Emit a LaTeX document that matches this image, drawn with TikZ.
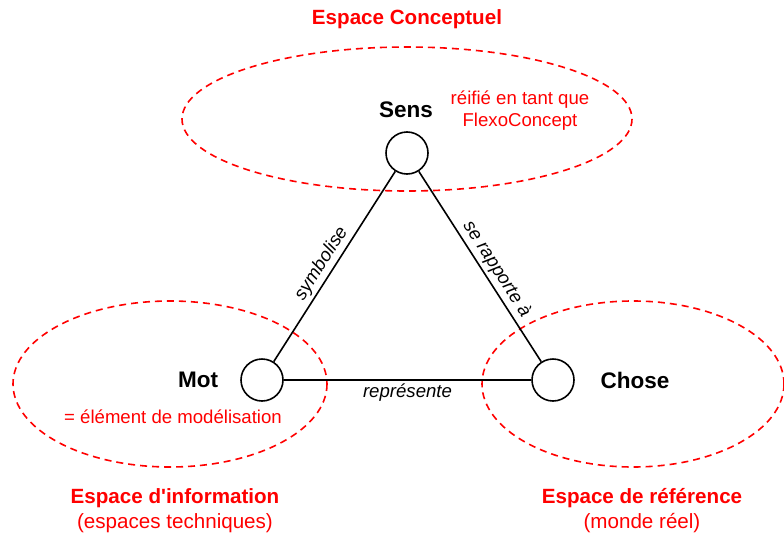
\documentclass[tikz,border=0pt]{standalone}
\usepackage{fontspec}
\setmainfont{Liberation Sans}
\begin{document}
\begin{tikzpicture}[x=1pt,y=-1pt,
  vertex/.style={circle,draw,line width=1.6pt,minimum size=42pt,inner sep=0pt},
  region/.style={draw=red,line width=1.6pt,dash pattern=on 7pt off 5pt},
  conn/.style={line width=1.6pt},
  vlabel/.style={font=\fontsize{22.5}{27}\selectfont\bfseries,inner sep=0pt},
  title/.style={text=red,align=center,inner sep=0pt,font=\fontsize{20.6}{25.5}\selectfont},
  note/.style={text=red,align=center,inner sep=0pt,font=\fontsize{18.6}{22}\selectfont},
  elabel/.style={font=\fontsize{18.6}{22}\selectfont\itshape,inner sep=3pt}]
\useasboundingbox (0,0) rectangle (784,538);
\fill[white] (0,0) rectangle (784,538);
% regions
\draw[region] (407,119) ellipse [x radius=225, y radius=72];
\draw[region] (170,384) ellipse [x radius=157, y radius=83];
\draw[region] (633,384) ellipse [x radius=151, y radius=83];
% vertices
\node[vertex] (sens) at (407,153) {};
\node[vertex] (mot) at (262,380) {};
\node[vertex] (chose) at (553,380) {};
% connectors
\draw[conn] (mot) -- node[elabel,sloped,above,pos=0.48] (l1) {symbolise} (sens);
\draw[conn] (sens) -- node[elabel,sloped,above,pos=0.55] (l2) {se rapporte à} (chose);
\draw[conn] (mot) -- node[elabel,below,midway] (l3) {représente} (chose);
% labels
\node[vlabel] (senslbl) at (406,110) {Sens};
\node[vlabel] (motlbl) at (198,380) {Mot};
\node[vlabel] (choselbl) at (635,380) {Chose};
\node[title,font=\fontsize{20.6}{25.5}\selectfont\bfseries] (conc) at (407,19.5) {Espace Conceptuel};
\node[note] (reifie) at (520,110.5) {réifié en tant que\\FlexoConcept};
\node[note] (elem) at (173,416.5) {= élément de modélisation};
\node[title] (info) at (175,510.5) {\textbf{Espace d\textquotesingle information}\\(espaces techniques)};
\node[title] (ref) at (642,510.5) {\textbf{Espace de référence}\\(monde réel)};
\end{tikzpicture}
\end{document}
